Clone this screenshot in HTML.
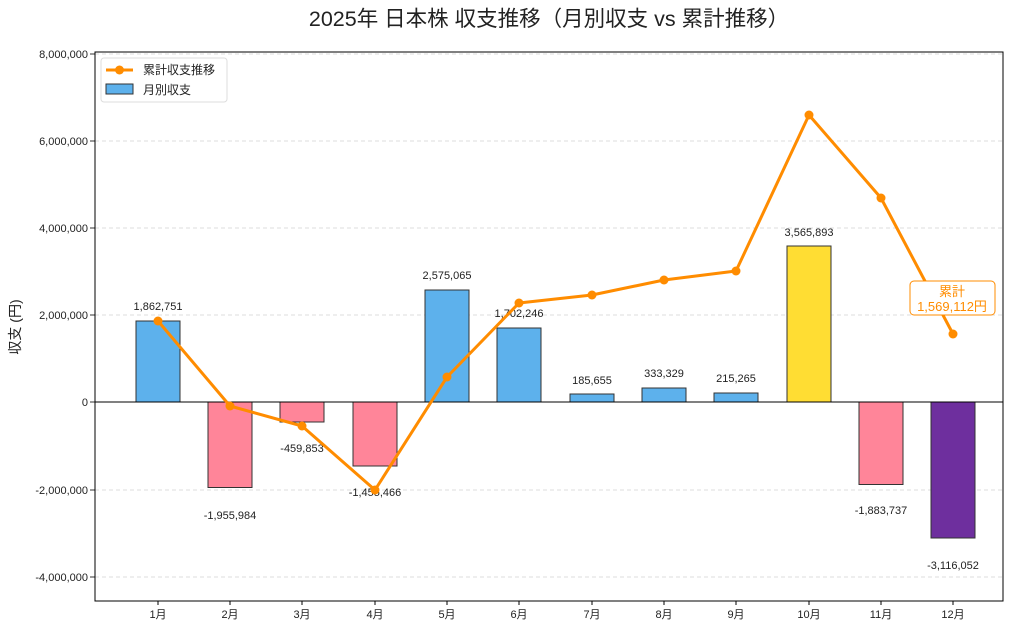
<!DOCTYPE html>
<html><head><meta charset="utf-8"><style>
body{margin:0;background:#fff}
text{font-family:"Liberation Sans","Noto Sans CJK JP",sans-serif;fill:#222}
</style></head><body>
<svg width="1024" height="628" xmlns="http://www.w3.org/2000/svg">
<rect width="1024" height="628" fill="#fff"/>
<text x="549" y="26" font-size="21.5" text-anchor="middle">2025年 日本株 収支推移（月別収支 vs 累計推移）</text>
<g stroke="#d4d4d4" stroke-dasharray="4,3" stroke-width="0.8">
<line x1="95" x2="1003" y1="54" y2="54"/><line x1="95" x2="1003" y1="141" y2="141"/>
<line x1="95" x2="1003" y1="228" y2="228"/><line x1="95" x2="1003" y1="315" y2="315"/>
<line x1="95" x2="1003" y1="490" y2="490"/><line x1="95" x2="1003" y1="577" y2="577"/>
</g>
<g font-size="11" text-anchor="end">
<text x="88" y="58">8,000,000</text><text x="88" y="145">6,000,000</text><text x="88" y="232">4,000,000</text>
<text x="88" y="319">2,000,000</text><text x="88" y="406">0</text><text x="88" y="494">-2,000,000</text><text x="88" y="581">-4,000,000</text>
</g>
<g stroke="#333" stroke-width="1">
<line x1="90" x2="95" y1="54" y2="54"/><line x1="90" x2="95" y1="141" y2="141"/><line x1="90" x2="95" y1="228" y2="228"/>
<line x1="90" x2="95" y1="315" y2="315"/><line x1="90" x2="95" y1="402" y2="402"/><line x1="90" x2="95" y1="490" y2="490"/><line x1="90" x2="95" y1="577" y2="577"/>
</g>
<text x="20" y="327" font-size="14" text-anchor="middle" transform="rotate(-90 20 327)">収支 (円)</text>
<g stroke="#333" stroke-width="1">
<rect x="136" y="321" width="44" height="81" fill="#5DB1EC"/>
<rect x="208" y="402" width="44" height="85.5" fill="#FF8599"/>
<rect x="280" y="402" width="44" height="20" fill="#FF8599"/>
<rect x="353" y="402" width="44" height="64" fill="#FF8599"/>
<rect x="425" y="290" width="44" height="112" fill="#5DB1EC"/>
<rect x="497" y="328" width="44" height="74" fill="#5DB1EC"/>
<rect x="570" y="394" width="44" height="8" fill="#5DB1EC"/>
<rect x="642" y="388" width="44" height="14" fill="#5DB1EC"/>
<rect x="714" y="393" width="44" height="9" fill="#5DB1EC"/>
<rect x="787" y="246" width="44" height="156" fill="#FFDD33"/>
<rect x="859" y="402" width="44" height="82.5" fill="#FF8599"/>
<rect x="931" y="402" width="44" height="136" fill="#6E2F9E"/>
</g>
<line x1="95" x2="1003" y1="402" y2="402" stroke="#000" stroke-width="1"/>
<g font-size="11" text-anchor="middle">
<text x="158" y="310">1,862,751</text><text x="230" y="519">-1,955,984</text><text x="302" y="452">-459,853</text>
<text x="375" y="496">-1,455,466</text><text x="447" y="279">2,575,065</text><text x="519" y="317">1,702,246</text>
<text x="592" y="384">185,655</text><text x="664" y="377">333,329</text><text x="736" y="382">215,265</text>
<text x="809" y="236">3,565,893</text><text x="881" y="514">-1,883,737</text><text x="953" y="569">-3,116,052</text>
</g>
<polyline fill="none" stroke="#FF8C00" stroke-width="3" stroke-linejoin="round" points="158,321 230,406 302,426 375,490 447,377 519,303 592,295 664,280 736,271 809,115 881,198 953,334"/>
<g fill="#FF8C00">
<circle cx="158" cy="321" r="4.5"/><circle cx="230" cy="406" r="4.5"/><circle cx="302" cy="426" r="4.5"/><circle cx="375" cy="490" r="4.5"/>
<circle cx="447" cy="377" r="4.5"/><circle cx="519" cy="303" r="4.5"/><circle cx="592" cy="295" r="4.5"/><circle cx="664" cy="280" r="4.5"/>
<circle cx="736" cy="271" r="4.5"/><circle cx="809" cy="115" r="4.5"/><circle cx="881" cy="198" r="4.5"/><circle cx="953" cy="334" r="4.5"/>
</g>
<rect x="910" y="281" width="85" height="34" rx="4" fill="#fff" stroke="#FF8C00" stroke-width="1"/>
<text x="952" y="296" font-size="13" text-anchor="middle" style="fill:#FF8C00">累計</text>
<text x="952" y="311" font-size="13" text-anchor="middle" style="fill:#FF8C00">1,569,112円</text>
<rect x="95" y="52" width="908" height="549" fill="none" stroke="#000" stroke-width="1"/>
<g font-size="11" text-anchor="middle">
<text x="158" y="618">1月</text><text x="230" y="618">2月</text><text x="302" y="618">3月</text><text x="375" y="618">4月</text>
<text x="447" y="618">5月</text><text x="519" y="618">6月</text><text x="592" y="618">7月</text><text x="664" y="618">8月</text>
<text x="736" y="618">9月</text><text x="809" y="618">10月</text><text x="881" y="618">11月</text><text x="953" y="618">12月</text>
</g>
<g stroke="#000"><line x1="158" x2="158" y1="601" y2="605"/><line x1="230" x2="230" y1="601" y2="605"/><line x1="302" x2="302" y1="601" y2="605"/><line x1="375" x2="375" y1="601" y2="605"/><line x1="447" x2="447" y1="601" y2="605"/><line x1="519" x2="519" y1="601" y2="605"/><line x1="592" x2="592" y1="601" y2="605"/><line x1="664" x2="664" y1="601" y2="605"/><line x1="736" x2="736" y1="601" y2="605"/><line x1="809" x2="809" y1="601" y2="605"/><line x1="881" x2="881" y1="601" y2="605"/><line x1="953" x2="953" y1="601" y2="605"/></g>
<rect x="101" y="58" width="126" height="44" rx="3" fill="#fff" stroke="#ddd"/>
<line x1="106" x2="133" y1="70" y2="70" stroke="#FF8C00" stroke-width="3"/><circle cx="119.5" cy="70" r="4.5" fill="#FF8C00"/>
<rect x="106" y="84" width="27" height="10" fill="#5DB1EC" stroke="#333"/>
<text x="143" y="74" font-size="12">累計収支推移</text>
<text x="143" y="94" font-size="12">月別収支</text>
</svg>
</body></html>
